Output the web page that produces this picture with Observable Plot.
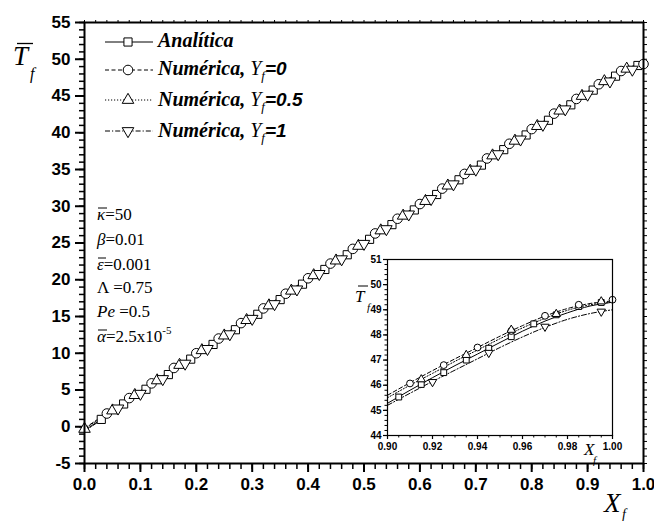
<!DOCTYPE html>
<html><head><meta charset="utf-8">
<script src="https://cdn.jsdelivr.net/npm/d3@7"></script>
<script src="https://cdn.jsdelivr.net/npm/@observablehq/plot@0.6"></script>
<style>
body{margin:0;background:#fff;}
#wrap{position:relative;width:654px;height:521px;overflow:hidden;background:#fff;}
#wrap svg{position:absolute;}
</style></head><body><div id="wrap"></div>
<script>
// ---- curves (X_f, T_f) ----
const lineX        = [0,0.1,0.2,0.3,0.4,0.5,0.6,0.7,0.8,0.9,0.91,0.92,0.93,0.94,0.95,0.96,0.97,0.98,0.99,1.0];
const lineAnalitica= [-0.5,4.6,9.7,14.8,19.9,24.95,30.05,35.1,40.2,45.28,45.8,46.3,46.78,47.24,47.7,48.15,48.55,48.88,49.15,49.3];
const lineY0       = [-0.2,4.9,10.0,15.1,20.2,25.25,30.35,35.4,40.5,45.6,46.1,46.58,47.05,47.5,47.95,48.37,48.75,49.05,49.25,49.35];
const lineY05      = [-0.3,4.8,9.9,15.0,20.1,25.15,30.25,35.3,40.4,45.5,46.0,46.47,46.95,47.4,47.85,48.28,48.66,48.98,49.2,49.3];
const lineY1       = [-0.6,4.5,9.6,14.7,19.8,24.85,29.95,35.0,40.1,45.2,45.68,46.15,46.6,47.05,47.5,47.92,48.3,48.62,48.85,49.0];

// ---- main-plot markers ----
const sqX = [0.03,0.07,0.11,0.15,0.19,0.23,0.27,0.31,0.35,0.39,0.43,0.47,0.51,0.55,0.59,0.63,0.67,0.71,0.75,0.79,0.83,0.87,0.91,0.95,0.99];
const sqT = [1.0,3.1,5.1,7.1,9.2,11.2,13.2,15.3,17.3,19.4,21.4,23.4,25.5,27.5,29.5,31.6,33.6,35.6,37.7,39.7,41.7,43.8,45.8,47.7,49.15];
const ciX = [0.04,0.08,0.12,0.16,0.20,0.24,0.28,0.32,0.36,0.40,0.44,0.48,0.52,0.56,0.60,0.64,0.68,0.72,0.76,0.80,0.84,0.88,0.92,0.96,1.00];
const ciT = [1.8,3.9,5.9,8.0,10.0,12.0,14.1,16.1,18.1,20.2,22.2,24.2,26.3,28.3,30.3,32.4,34.4,36.5,38.5,40.5,42.6,44.6,46.6,48.4,49.35];
const upX = [0.00,0.05,0.09,0.13,0.17,0.21,0.25,0.29,0.33,0.37,0.41,0.45,0.49,0.53,0.57,0.61,0.65,0.69,0.73,0.77,0.81,0.85,0.89,0.93,0.97];
const upT = [-0.3,2.2,4.3,6.3,8.4,10.4,12.4,14.5,16.5,18.5,20.6,22.6,24.6,26.7,28.7,30.7,32.8,34.8,36.9,38.9,40.9,43.0,45.0,47.0,48.7];
const dnX = [0.06,0.10,0.14,0.18,0.22,0.26,0.30,0.34,0.38,0.42,0.46,0.50,0.54,0.58,0.62,0.66,0.70,0.74,0.78,0.82,0.86,0.90,0.94,0.98];
const dnT = [2.5,4.5,6.5,8.6,10.6,12.6,14.7,16.7,18.7,20.8,22.8,24.9,26.9,28.9,31.0,33.0,35.0,37.1,39.1,41.1,43.2,45.2,47.0,48.6];

// ---- inset markers ----
const inSqX = [0.905,0.915,0.925,0.935,0.945,0.955,0.965,0.975,0.985,0.995];
const inSqT = [45.53,46.03,46.5,47.0,47.47,47.93,48.44,48.8,49.13,49.29];
const inCiX = [0.91,0.925,0.94,0.955,0.97,0.985,1.0];
const inCiT = [46.07,46.8,47.5,48.16,48.76,49.2,49.4];
const inUpX = [0.915,0.935,0.955,0.975,0.995];
const inUpT = [46.23,47.2,48.2,48.83,49.33];
const inDnX = [0.92,0.945,0.97,0.995];
const inDnT = [46.13,47.29,48.33,48.93];

// ---- ticks ----
const xMajor = [0,0.1,0.2,0.3,0.4,0.5,0.6,0.7,0.8,0.9,1.0];
const yMajor = [-5,0,5,10,15,20,25,30,35,40,45,50,55];
const inXMajor = [0.90,0.92,0.94,0.96,0.98,1.00];
const inYMajor = [44,45,46,47,48,49,50,51];

const xMinor = d3.range(0, 1.0001, 0.02);
const yMinor = d3.range(-5, 55.001, 1);
const inXMinor = d3.range(0.9, 1.0001, 0.005);
const inYMinor = d3.range(44, 51.001, 0.2);

const pts = (xs, ys) => xs.map((x, i) => ({x, y: ys[i]}));
const curves = [
  {y: lineAnalitica, dash: null},
  {y: lineY0, dash: "4,2.5"},
  {y: lineY05, dash: "1.2,1.8"},
  {y: lineY1, dash: "5,2,1.2,2"}
];
const none = () => "";

const main = Plot.plot({
  width: 654, height: 521,
  marginLeft: 84, marginRight: 11, marginTop: 22, marginBottom: 58,
  x: {domain: [0, 1]}, y: {domain: [-5, 55]},
  style: {fontFamily: "Liberation Sans, Arial, sans-serif", fontSize: "17px", fontWeight: "bold", color: "black", background: "transparent"},
  marks: [
    Plot.axisX({ticks: xMinor, tickSize: 6, tickFormat: none, strokeWidth: 1.5, label: null}),
    Plot.axisX({ticks: xMajor, tickSize: 9, tickPadding: 5, tickFormat: d3.format(".1f"), strokeWidth: 2, label: null, fontSize: 17, fontWeight: "bold"}),
    Plot.axisX({anchor: "top", ticks: xMinor, tickSize: 3, tickFormat: none, strokeWidth: 1, label: null}),
    Plot.axisY({ticks: yMinor, tickSize: 5, tickFormat: none, strokeWidth: 1.5, label: null}),
    Plot.axisY({ticks: yMajor, tickSize: 9, tickPadding: 5, tickFormat: d => String(d), strokeWidth: 2, label: null, fontSize: 17, fontWeight: "bold"}),
    Plot.axisY({anchor: "right", ticks: yMinor, tickSize: 3, tickFormat: none, strokeWidth: 1, label: null}),
    ...curves.map(c => Plot.line(pts(lineX, c.y), {x: "x", y: "y", stroke: "black", strokeWidth: 1, strokeDasharray: c.dash, curve: "monotone-x"})),
    Plot.dot(pts(sqX, sqT), {x: "x", y: "y", symbol: "square", r: 4.6, stroke: "black", fill: "white", strokeWidth: 1}),
    Plot.dot(pts(ciX, ciT), {x: "x", y: "y", symbol: "circle", r: 4.8, stroke: "black", fill: "white", strokeWidth: 1}),
    Plot.dot(pts(upX, upT), {x: "x", y: "y", symbol: "triangle", r: 4.3, stroke: "black", fill: "white", strokeWidth: 1}),
    Plot.dot(pts(dnX, dnT), {x: "x", y: "y", symbol: "triangle", rotate: 180, r: 4.3, stroke: "black", fill: "white", strokeWidth: 1}),
    Plot.frame({stroke: "black", strokeWidth: 2})
  ]
});
main.style.left = "0px"; main.style.top = "0px";

const inset = Plot.plot({
  width: 285, height: 209,
  marginLeft: 47, marginRight: 13, marginTop: 9, marginBottom: 24,
  x: {domain: [0.9, 1.0]}, y: {domain: [44, 51]},
  style: {fontFamily: "Liberation Sans, Arial, sans-serif", fontSize: "10px", fontWeight: "bold", color: "black", background: "transparent"},
  marks: [
    Plot.axisX({ticks: inXMinor, tickSize: 2.5, tickFormat: none, strokeWidth: 1, label: null}),
    Plot.axisX({ticks: inXMajor, tickSize: 4, tickPadding: 3, tickFormat: d3.format(".2f"), strokeWidth: 1.2, label: null, fontSize: 10, fontWeight: "bold"}),
    Plot.axisY({ticks: inYMinor, tickSize: 2.5, tickFormat: none, strokeWidth: 1, label: null}),
    Plot.axisY({ticks: inYMajor, tickSize: 4, tickPadding: 2, tickFormat: d => String(d), strokeWidth: 1.2, label: null, fontSize: 10, fontWeight: "bold"}),
    ...curves.map(c => Plot.line(pts(lineX, c.y).filter(d => d.x >= 0.9), {x: "x", y: "y", stroke: "black", strokeWidth: 1, strokeDasharray: c.dash, curve: "monotone-x"})),
    Plot.dot(pts(inSqX, inSqT), {x: "x", y: "y", symbol: "square", r: 3.3, stroke: "black", fill: "white", strokeWidth: 1}),
    Plot.dot(pts(inCiX, inCiT), {x: "x", y: "y", symbol: "circle", r: 3.4, stroke: "black", fill: "white", strokeWidth: 1}),
    Plot.dot(pts(inUpX, inUpT), {x: "x", y: "y", symbol: "triangle", r: 3.1, stroke: "black", fill: "white", strokeWidth: 1}),
    Plot.dot(pts(inDnX, inDnT), {x: "x", y: "y", symbol: "triangle", rotate: 180, r: 3.1, stroke: "black", fill: "white", strokeWidth: 1}),
    Plot.frame({stroke: "black", strokeWidth: 1.2})
  ]
});
inset.style.left = "340px"; inset.style.top = "250px";

const wrap = document.getElementById("wrap");
wrap.appendChild(main);
wrap.appendChild(inset);

// ---- overlay: axis titles, legend, parameters ----
const legendItems = [
  {label: "Analítica", dash: null, sym: d3.symbolSquare, r: 4.6, rot: 0, yf: null},
  {label: "Numérica, ", dash: "4,2.5", sym: d3.symbolCircle, r: 4.8, rot: 0, yf: "=0"},
  {label: "Numérica, ", dash: "1.2,1.8", sym: d3.symbolTriangle, r: 4.3, rot: 0, yf: "=0.5"},
  {label: "Numérica, ", dash: "5,2,1.2,2", sym: d3.symbolTriangle, r: 4.3, rot: 180, yf: "=1"}
];
const rowY = [42, 70, 100, 131];
const rowBase = [47, 75, 106, 137];

const ov = d3.select(wrap).append("svg")
  .attr("width", 654).attr("height", 521)
  .style("left", "0px").style("top", "0px")
  .attr("font-family", "Liberation Serif, Times New Roman, serif");

legendItems.forEach((it, i) => {
  const y = rowY[i];
  ov.append("line").attr("x1", 105).attr("x2", 153).attr("y1", y).attr("y2", y)
    .attr("stroke", "black").attr("stroke-width", 1).attr("stroke-dasharray", it.dash);
  ov.append("path").attr("d", d3.symbol(it.sym, Math.PI * it.r * it.r)())
    .attr("transform", `translate(128,${y}) rotate(${it.rot})`)
    .attr("fill", "white").attr("stroke", "black");
  const t = ov.append("text").attr("x", 158).attr("y", rowBase[i])
    .attr("font-size", 20).attr("font-weight", "bold").attr("font-style", "italic");
  t.append("tspan").text(it.label);
  if (it.yf) {
    t.append("tspan").attr("font-weight", "normal").text("Y");
    t.append("tspan").attr("font-weight", "normal").attr("font-size", 13).attr("dy", 5).text("f");
    t.append("tspan").attr("font-family", "Liberation Sans, Arial, sans-serif").attr("font-size", 19).attr("dy", -5).attr("dx", 0).text(it.yf);
  }
});

ov.append("g").html(`
  <text x="13" y="65" font-size="27" font-style="italic">T</text>
  <line x1="17" x2="33" y1="43.5" y2="43.5" stroke="black" stroke-width="1.3"/>
  <text x="30" y="79" font-size="16" font-style="italic">f</text>

  <text x="604" y="512" font-size="27" font-style="italic">X</text>
  <text x="622" y="519" font-size="14" font-style="italic">f</text>

  <text x="355" y="302" font-size="17" font-style="italic">T</text>
  <line x1="358" x2="368" y1="286" y2="286" stroke="black" stroke-width="1"/>
  <text x="367" y="311" font-size="11" font-style="italic">f</text>

  <text x="584" y="455" font-size="17" font-style="italic">X</text>
  <text x="593" y="464" font-size="11" font-style="italic">f</text>

  <g font-size="17">
    <text x="97" y="220"><tspan font-style="italic">κ</tspan>=50</text>
    <line x1="98" x2="107" y1="208" y2="208" stroke="black" stroke-width="1"/>
    <text x="97" y="245"><tspan font-style="italic">β</tspan>=0.01</text>
    <text x="97" y="270"><tspan font-style="italic">ε</tspan>=0.001</text>
    <line x1="98" x2="106" y1="258" y2="258" stroke="black" stroke-width="1"/>
    <text x="97" y="293">Λ =0.75</text>
    <text x="97" y="317"><tspan font-style="italic">Pe</tspan> =0.5</text>
    <text x="97" y="342"><tspan font-style="italic">α</tspan>=2.5x10<tspan font-size="11" dy="-8">-5</tspan></text>
    <line x1="98" x2="107" y1="330" y2="330" stroke="black" stroke-width="1"/>
  </g>
`);
</script></body></html>
